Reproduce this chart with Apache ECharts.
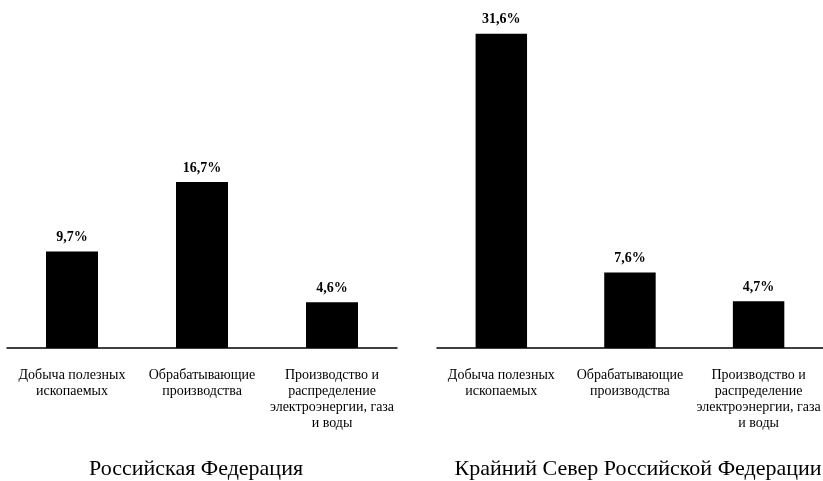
<!DOCTYPE html>
<html><head><meta charset="utf-8">
<script src="https://cdn.jsdelivr.net/npm/echarts@6/dist/echarts.min.js"></script>
<style>html,body{margin:0;padding:0;background:#fff}#c{width:823px;height:481px}</style>
</head><body><div id="c"></div>
<script>
const categories = ['Добыча полезных\nископаемых', 'Обрабатывающие\nпроизводства', 'Производство и\nраспределение\nэлектроэнергии, газа\nи воды'];
const ruValues = [9.7, 16.7, 4.6];
const northValues = [31.6, 7.6, 4.7];
const panelTitles = ['Российская Федерация', 'Крайний Север Российской Федерации'];

const serif = '"Liberation Serif", "DejaVu Serif", serif';
const chart = echarts.init(document.getElementById('c'), null, {renderer: 'canvas'});
function xAx(i) {
  return {
    type: 'category', gridIndex: i, data: categories,
    axisLine: {lineStyle: {color: '#000', width: 1.5}},
    axisTick: {show: false},
    axisLabel: {color: '#000', fontFamily: serif, fontSize: 14, lineHeight: 16, margin: 19, interval: 0}
  };
}
function yAx(i) {
  return {type: 'value', gridIndex: i, min: 0, max: 35, show: false, splitLine: {show: false}};
}
function ser(i, vals) {
  return {
    type: 'bar', xAxisIndex: i, yAxisIndex: i, data: vals, barWidth: '40%',
    itemStyle: {color: '#000'},
    label: {show: true, position: 'top', distance: 7, color: '#000', fontFamily: serif, fontSize: 14, fontWeight: 'bold',
      formatter: p => String(p.value).replace('.', ',') + '%'}
  };
}
chart.setOption({
  animation: false,
  title: [
    {text: panelTitles[0], left: 191, top: 453, textAlign: 'center', textStyle: {fontFamily: serif, fontSize: 22, fontWeight: 'normal', color: '#000'}},
    {text: panelTitles[1], left: 633, top: 453, textAlign: 'center', textStyle: {fontFamily: serif, fontSize: 22, fontWeight: 'normal', color: '#000'}}
  ],
  grid: [
    {left: 7, top: 0, width: 390, height: 348},
    {left: 437, top: 0, width: 390, height: 348}
  ],
  xAxis: [xAx(0), xAx(1)],
  yAxis: [yAx(0), yAx(1)],
  series: [ser(0, ruValues), ser(1, northValues)]
});
</script></body></html>
